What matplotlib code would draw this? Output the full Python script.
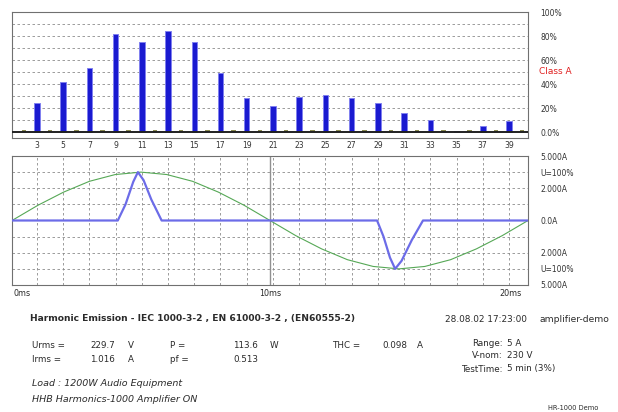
import matplotlib.pyplot as plt

plt.rcParams['font.family'] = ['DejaVu Sans']

# harmonic spectrum (% of class A limit)
harmonics = [3, 5, 7, 9, 11, 13, 15, 17, 19, 21, 23, 25, 27, 29, 31, 33, 35, 37, 39]
levels = [24, 42, 53, 82, 75, 84, 75, 49, 28, 22, 29, 31, 28, 24, 16, 10, 1, 5, 9]
even_harmonics = [2, 4, 6, 8, 10, 12, 14, 16, 18, 20, 22, 24, 26, 28, 30, 32, 34, 36, 38, 40]
even_levels = [2] * 20

pct_ticks = [100, 80, 60, 40, 20, 0]
pct_labels = ["100%", "80%", "60%", "40%", "20%", "0.0%"]

# waveforms over one period (ms)
t_volt = [0, 1, 2, 3, 4, 5, 6, 7, 8, 9, 10, 11, 12, 13, 14, 15, 16, 17, 18, 19, 20]
volt = [0, 0.94, 1.76, 2.43, 2.85, 3.0, 2.85, 2.43, 1.76, 0.94, 0,
        -0.94, -1.76, -2.43, -2.85, -3.0, -2.85, -2.43, -1.76, -0.94, 0]
t_curr = [0, 4.1, 4.4, 4.7, 4.88, 5.1, 5.4, 5.8, 14.15, 14.4, 14.65, 14.85, 15.1, 15.5, 15.93, 20]
curr = [0, 0, 1.0, 2.4, 3.0, 2.5, 1.3, 0, 0, -1.0, -2.3, -3.0, -2.5, -1.2, 0, 0]

wave_ticks = [4, 3, 2, 0, -2, -3, -4]
wave_labels = ["5.000A", "U=100%", "2.000A", "0.0A", "2.000A", "U=100%", "5.000A"]

W, H = 618, 412
fig = plt.figure(figsize=(W / 100, H / 100), dpi=100)


def box(x0, y0, x1, y1):
    return [x0 / W, 1 - y1 / H, (x1 - x0) / W, (y1 - y0) / H]


def put(x, y, s, **kw):
    kw.setdefault('fontsize', 6.3)
    kw.setdefault('color', '#2a2a2a')
    fig.text(x / W, 1 - y / H, s, va='center', **kw)


frame = '#707070'
gridc = '#8c8c8c'

# ---- spectrum panel
ax1 = fig.add_axes(box(12, 12, 528, 138))
hmin, hmax = 1.1, 40.45
ax1.set_xlim(hmin, hmax)
ax1.set_ylim(-5, 100)
for y in range(10, 100, 10):
    ax1.axhline(y, color=gridc, lw=0.6, ls=(0, (3, 3)), zorder=1)
ax1.bar(even_harmonics, even_levels, width=0.35, color='#8a8a50', zorder=2)
ax1.bar(harmonics, levels, width=0.42, color='#1a1ad0', edgecolor='#8080f0', lw=0.7, zorder=3)
ax1.axhline(0, color='#202020', lw=1.4, zorder=4)
ax1.set_xticks(harmonics)
ax1.set_xticklabels([str(h) for h in harmonics], fontsize=5.5, color='#333333')
ax1.tick_params(axis='x', length=0, pad=2)
ax1.yaxis.tick_right()
ax1.set_yticks(pct_ticks)
ax1.set_yticklabels(pct_labels, fontsize=5.5, color='#333333')
ax1.tick_params(axis='y', length=0, pad=9)
for s in ax1.spines.values():
    s.set_color(frame)
put(539, 72, "Class A", color='#e02020', fontsize=6.5)

# ---- waveform panel
ax2 = fig.add_axes(box(12, 156, 528, 285))
ax2.set_xlim(0, 20)
ax2.set_ylim(-4, 4)
for y in [-3, -2, -1, 1, 2, 3]:
    ax2.axhline(y, color=gridc, lw=0.6, ls=(0, (3, 3)), zorder=1)
for h in harmonics:
    t = (h - hmin) / (hmax - hmin) * 20
    ax2.axvline(t, color=gridc, lw=0.6, ls=(0, (3, 3)), zorder=1)
ax2.axvline(10, color='#909090', lw=1.0, zorder=1)
ax2.plot(t_volt, volt, color='#56a856', lw=0.8, zorder=2)
ax2.plot(t_curr, curr, color='#6c6ce8', lw=1.6, zorder=3)
ax2.set_xticks([])
ax2.yaxis.tick_right()
ax2.set_yticks(wave_ticks)
ax2.set_yticklabels(wave_labels, fontsize=5.5, color='#333333')
ax2.tick_params(axis='y', length=0, pad=9)
for s in ax2.spines.values():
    s.set_color(frame)
put(13, 293, "0ms", fontsize=5.8)
put(270, 293, "10ms", fontsize=5.8, ha='center')
put(522, 293, "20ms", fontsize=5.8, ha='right')

# ---- measurement text
put(30, 318, "Harmonic Emission - IEC 1000-3-2 , EN 61000-3-2 , (EN60555-2)",
    fontsize=6.6, fontweight='bold')
put(445, 320, "28.08.02 17:23:00", fontsize=6.4)
put(540, 320, "amplifier-demo", fontsize=6.6)

put(32, 345, "Urms =")
put(90, 345, "229.7")
put(128, 345, "V")
put(170, 345, "P =")
put(233, 345, "113.6")
put(270, 345, "W")
put(332, 345, "THC =")
put(382, 345, "0.098")
put(417, 345, "A")
put(32, 359, "Irms =")
put(90, 359, "1.016")
put(128, 359, "A")
put(170, 359, "pf =")
put(233, 359, "0.513")

put(503, 343, "Range:", ha='right')
put(507, 343, "5 A")
put(503, 356, "V-nom:", ha='right')
put(507, 356, "230 V")
put(503, 369, "TestTime:", ha='right')
put(507, 369, "5 min (3%)")

put(32, 383, "Load : 1200W Audio Equipment", fontsize=6.8, fontstyle='italic')
put(32, 400, "HHB Harmonics-1000 Amplifier ON", fontsize=6.8, fontstyle='italic')
put(548, 408, "HR-1000 Demo", fontsize=4.8)

fig.savefig("out.png", dpi=100)
